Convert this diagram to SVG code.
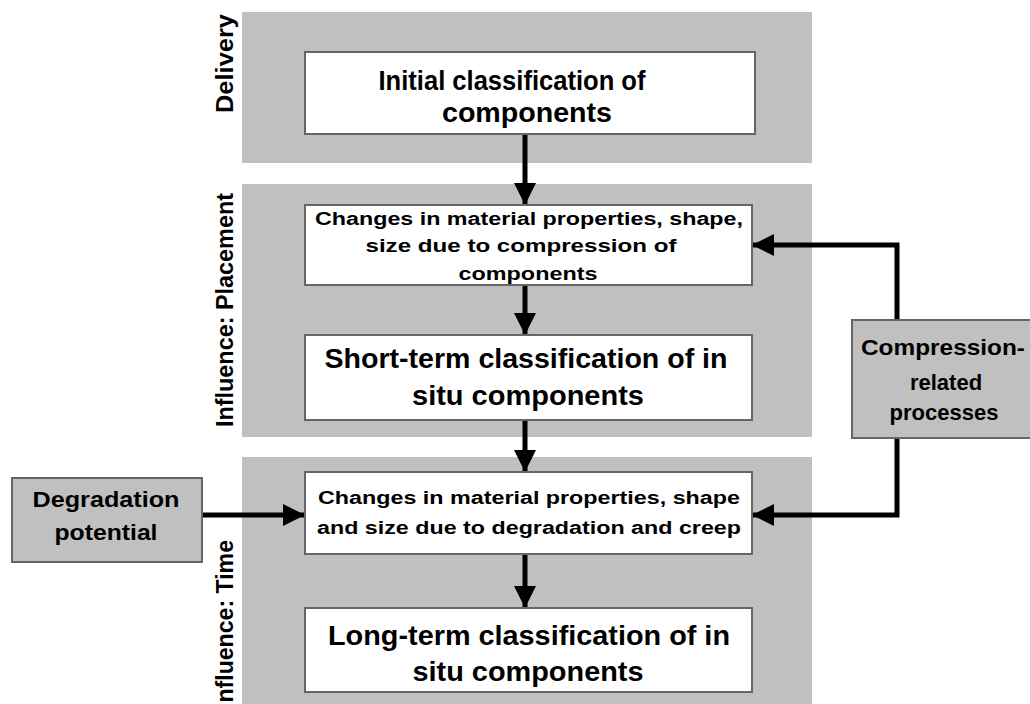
<svg xmlns="http://www.w3.org/2000/svg" width="1030" height="704" viewBox="0 0 1030 704">
<defs>
<style>
.band{fill:#c0c0c0;}
.box{fill:#fff;stroke:#666;stroke-width:2;}
.gbox{fill:#c0c0c0;stroke:#666;stroke-width:2;}
text{font-family:"Liberation Sans",Arial,sans-serif;fill:#000;text-anchor:middle;}
.big{font-size:27px;font-weight:bold;}
.med{font-size:18px;font-weight:bold;}
.side{font-size:22px;font-weight:bold;}
.lbl{font-size:23px;font-weight:bold;text-anchor:start;}
.ln{fill:none;stroke:#000;stroke-width:5;}
</style>
<marker id="ah" viewBox="0 0 10 10" refX="10" refY="5" markerWidth="4.4" markerHeight="4.4" orient="auto" markerUnits="strokeWidth">
<path d="M0,0 L10,5 L0,10 Z" fill="#000"/>
</marker>
</defs>
<rect width="1030" height="704" fill="#fff"/>
<g id="bands">
<rect class="band" x="242" y="12" width="570" height="151"/>
<rect class="band" x="242" y="184" width="570" height="253"/>
<rect class="band" x="242" y="457" width="570" height="250"/>
<text class="lbl" transform="translate(233,113) rotate(-90)" textLength="99" lengthAdjust="spacingAndGlyphs">Delivery</text>
<text class="lbl" transform="translate(233,427) rotate(-90)" textLength="234" lengthAdjust="spacingAndGlyphs">Influence: Placement</text>
<text class="lbl" transform="translate(233,709) rotate(-90)" textLength="169" lengthAdjust="spacingAndGlyphs">Influence: Time</text>
</g>
<g id="connectors">
<line class="ln" x1="525" y1="134" x2="525" y2="205" marker-end="url(#ah)"/>
<line class="ln" x1="525" y1="285" x2="525" y2="335" marker-end="url(#ah)"/>
<line class="ln" x1="525" y1="420" x2="525" y2="472" marker-end="url(#ah)"/>
<line class="ln" x1="525" y1="554" x2="525" y2="608" marker-end="url(#ah)"/>
<line class="ln" x1="202" y1="515" x2="305" y2="515" marker-end="url(#ah)"/>
<polyline class="ln" points="897,320 897,245 752,245" marker-end="url(#ah)"/>
<polyline class="ln" points="897,438 897,515 752,515" marker-end="url(#ah)"/>
</g>
<g id="n1">
<rect class="box" x="305" y="52" width="450" height="82"/>
<text class="big" x="512" y="90" textLength="267" lengthAdjust="spacingAndGlyphs">Initial classification of</text>
<text class="big" x="527" y="122" textLength="170" lengthAdjust="spacingAndGlyphs">components</text>
</g>
<g id="n2">
<rect class="box" x="305" y="205" width="447" height="80"/>
<text class="med" x="529" y="225" textLength="428" lengthAdjust="spacingAndGlyphs">Changes in material properties, shape,</text>
<text class="med" x="521" y="252" textLength="311" lengthAdjust="spacingAndGlyphs">size due to compression of</text>
<text class="med" x="528" y="280" textLength="139" lengthAdjust="spacingAndGlyphs">components</text>
</g>
<g id="n3">
<rect class="box" x="305" y="335" width="447" height="85"/>
<text class="big" x="526" y="368" textLength="403" lengthAdjust="spacingAndGlyphs">Short-term classification of in</text>
<text class="big" x="528" y="405" textLength="232" lengthAdjust="spacingAndGlyphs">situ components</text>
</g>
<g id="n4">
<rect class="box" x="305" y="472" width="447" height="82"/>
<text class="med" x="529" y="504" textLength="422" lengthAdjust="spacingAndGlyphs">Changes in material properties, shape</text>
<text class="med" x="529" y="534" textLength="424" lengthAdjust="spacingAndGlyphs">and size due to degradation and creep</text>
</g>
<g id="n5">
<rect class="box" x="305" y="608" width="447" height="84"/>
<text class="big" x="529" y="645" textLength="402" lengthAdjust="spacingAndGlyphs">Long-term classification of in</text>
<text class="big" x="528" y="681" textLength="231" lengthAdjust="spacingAndGlyphs">situ components</text>
</g>
<g id="n6">
<rect class="gbox" x="12" y="478" width="190" height="84"/>
<text class="side" x="106" y="507" textLength="147" lengthAdjust="spacingAndGlyphs">Degradation</text>
<text class="side" x="106" y="540" textLength="103" lengthAdjust="spacingAndGlyphs">potential</text>
</g>
<g id="n7">
<rect class="gbox" x="852" y="320" width="180" height="118"/>
<text class="side" x="943" y="355" textLength="164" lengthAdjust="spacingAndGlyphs">Compression-</text>
<text class="side" x="946" y="390">related</text>
<text class="side" x="944" y="420">processes</text>
</g>
</svg>
